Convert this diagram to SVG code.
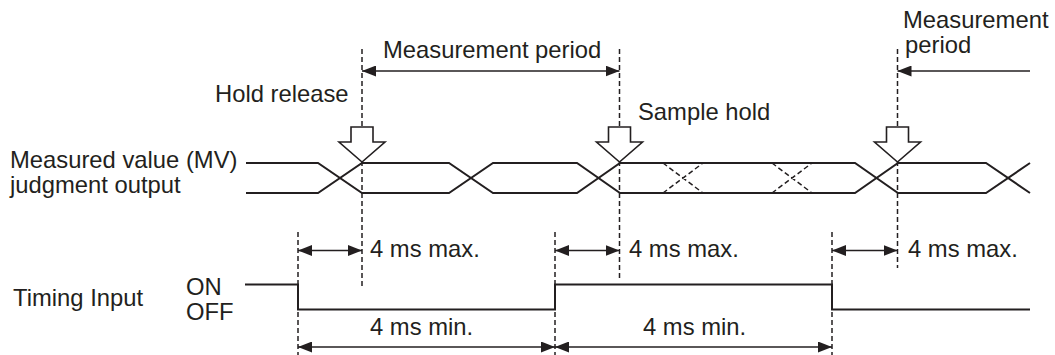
<svg xmlns="http://www.w3.org/2000/svg" width="1055" height="355" viewBox="0 0 1055 355">
<style>
text{font-family:"Liberation Sans",Arial,sans-serif;font-size:23.8px;fill:#231f20}
.dash{fill:none;stroke:#231f20;stroke-width:1.5;stroke-dasharray:5 3}
.wave{fill:none;stroke:#231f20;stroke-width:2}
.sig{fill:none;stroke:#231f20;stroke-width:2}
.dim{fill:none;stroke:#231f20;stroke-width:1.6;marker-start:url(#ah);marker-end:url(#ah)}
.dim1{fill:none;stroke:#231f20;stroke-width:1.6;marker-end:url(#ah)}
.hold{fill:#fff;stroke:#231f20;stroke-width:1.6}
</style>
<defs>
<marker id="ah" viewBox="0 0 14 11" refX="14" refY="5.5" markerWidth="14" markerHeight="11" markerUnits="userSpaceOnUse" orient="auto-start-reverse">
<path d="M0,0 L14,5.5 L0,11 z" fill="#231f20"/>
</marker>
</defs>
<rect width="1055" height="355" fill="#fff"/>
<g id="guides">
<line class="dash" x1="362" y1="49" x2="362" y2="288"/>
<line class="dash" x1="619.5" y1="49" x2="619.5" y2="280"/>
<line class="dash" x1="897.5" y1="49" x2="897.5" y2="268"/>
<line class="dash" x1="298" y1="232" x2="298" y2="355"/>
<line class="dash" x1="555" y1="232" x2="555" y2="355"/>
<line class="dash" x1="832" y1="232" x2="832" y2="355"/>
</g>
<g id="mv-signal">
<path class="wave" d="M246,163 H318 L362,193 H449 L493,163 H577 L620,193 H855 L898,163 H986 L1030,193"/>
<path class="wave" d="M246,193 H318 L362,163 H449 L493,193 H577 L620,163 H855 L898,193 H986 L1030,163"/>
<path class="dash" d="M663,193 L703,163 M663,163 L703,193 M772,193 L812,163 M772,163 L812,193"/>
<text x="10" y="168">Measured value (MV)</text>
<text x="10" y="193">judgment output</text>
</g>
<g id="timing-signal">
<path class="sig" d="M245,284.5 H298 V309.5 H555 V284.5 H832 V309.5 H1030"/>
<text x="13" y="306">Timing Input</text>
<text x="186" y="295">ON</text>
<text x="186" y="320">OFF</text>
</g>
<g id="hold-release">
<path class="hold" d="M351,127 H373 V142 H385 L362,162 L339,142 H351 Z"/>
<text x="215" y="102">Hold release</text>
</g>
<g id="sample-hold">
<path class="hold" d="M608.5,127 H630.5 V142 H642.5 L619.5,162 L596.5,142 H608.5 Z"/>
<text x="638" y="120">Sample hold</text>
</g>
<g id="hold-3">
<path class="hold" d="M886.5,127 H908.5 V142 H920.5 L897.5,162 L874.5,142 H886.5 Z"/>
</g>
<g id="connectors">
<line class="dim" x1="362" y1="71" x2="619.5" y2="71"/>
<line class="dim1" x1="1030" y1="71" x2="897.5" y2="71"/>
<line class="dim" x1="298" y1="250.5" x2="362" y2="250.5"/>
<line class="dim" x1="555" y1="250.5" x2="619.5" y2="250.5"/>
<line class="dim" x1="832" y1="250.5" x2="897.5" y2="250.5"/>
<line class="dim" x1="298" y1="347" x2="555" y2="347"/>
<line class="dim" x1="555" y1="347" x2="832" y2="347"/>
</g>
<g id="labels">
<text x="383" y="58">Measurement period</text>
<text x="903" y="28">Measurement</text>
<text x="905" y="53">period</text>
<text x="370" y="257">4 ms max.</text>
<text x="629" y="257">4 ms max.</text>
<text x="908" y="257">4 ms max.</text>
<text x="370" y="335">4 ms min.</text>
<text x="643" y="335">4 ms min.</text>
</g>
</svg>
